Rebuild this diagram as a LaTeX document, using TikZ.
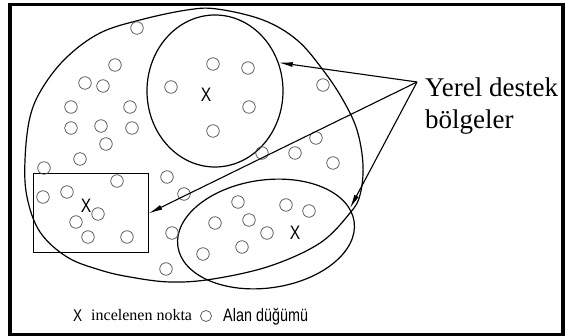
\documentclass[tikz,border=0pt]{standalone}
\usepackage{fontspec}
\setmainfont{Liberation Serif}
\newfontfamily\narrowsans[FakeStretch=0.8]{Liberation Sans}
\usetikzlibrary{shapes.geometric,arrows.meta}
\begin{document}
\begin{tikzpicture}[x=1pt,y=-1pt,
  region/.style={draw,line width=1.2pt},
  dot/.style={circle,draw=black!70,line width=0.7pt,minimum size=12.5pt,inner sep=0pt},
  pointer/.style={line width=1.1pt,-{Latex[length=14pt,width=5pt]}},
  xmark/.style={font=\narrowsans\fontsize{19.5}{20}\selectfont,inner sep=0pt},
  label/.style={anchor=base west,inner sep=0pt}]
\useasboundingbox (0,0) rectangle (565,336);
\draw[line width=3.5pt] (10,4.5) rectangle (563,334.5);
% outer domain
\draw[region] plot[smooth cycle,tension=0.6] coordinates {
 (140,20) (187,10) (217,9) (263,20) (297,40) (323,70) (343,100) (357,130)
 (363,165) (360,195) (350,213) (320,243) (270,266) (213,279) (170,282)
 (130,277) (100,270) (67,257) (40,232) (27,197) (25,160) (30,117) (43,87)
 (67,57) (100,33)};
% support regions
\node[ellipse,region,minimum width=136pt,minimum height=152pt,inner sep=0pt] (topreg) at (215,91) {};
\node[ellipse,region,minimum width=178pt,minimum height=108pt,inner sep=0pt,rotate=8] (botreg) at (266,234) {};
\node[rectangle,draw,line width=1pt,minimum width=115pt,minimum height=79pt,inner sep=0pt] (win) at (90.5,213.5) {};
% field nodes
\foreach \p [count=\i] in {(137,28),(115,65),(85,83),(103,86),(71,107),(130,107),
  (71,128),(101,126),(132,128),(106,144),(80,159),(44,168),(167,177),(117,181),
  (184,194),(43,197),(67,192),(98,214),(76,222),(88,237),(127,237),(172,233),
  (166,269),(213,64),(248,68),(171,87),(249,107),(213,131),(323,85),(316,138),
  (262,153),(295,153),(333,163),(238,202),(286,205),(309,211),(215,223),
  (249,220),(267,233),(203,254),(242,247)}
  \node[dot] (d\i) at \p {};
% points of interest
\node[xmark] (xa) at (206,95) {X};
\node[xmark] (xb) at (86,206) {X};
\node[xmark] (xc) at (295,233) {X};
% label and pointers
\node[label,font=\fontsize{27}{30}\selectfont] (lbla) at (425,97) {Yerel destek};
\node[label,font=\fontsize{27}{30}\selectfont] (lblb) at (425,129) {bölgeler};
\coordinate (apex) at (417,82);
\draw[pointer] (apex) -- (topreg.24);
\draw[pointer] (apex) -- (win.east);
\draw[pointer] (apex) -- (botreg.9);
% legend
\node[label,font=\narrowsans\fontsize{17}{18}\selectfont] (lx) at (73,322) {X};
\node[label,font=\fontsize{16}{18}\selectfont] (lt1) at (91,321) {incelenen nokta};
\node[dot,minimum size=11pt] (ldot) at (206,316) {};
\node[label,font=\narrowsans\fontsize{18}{20}\selectfont] (lt2) at (223,322) {Alan düğümü};
\end{tikzpicture}
\end{document}
